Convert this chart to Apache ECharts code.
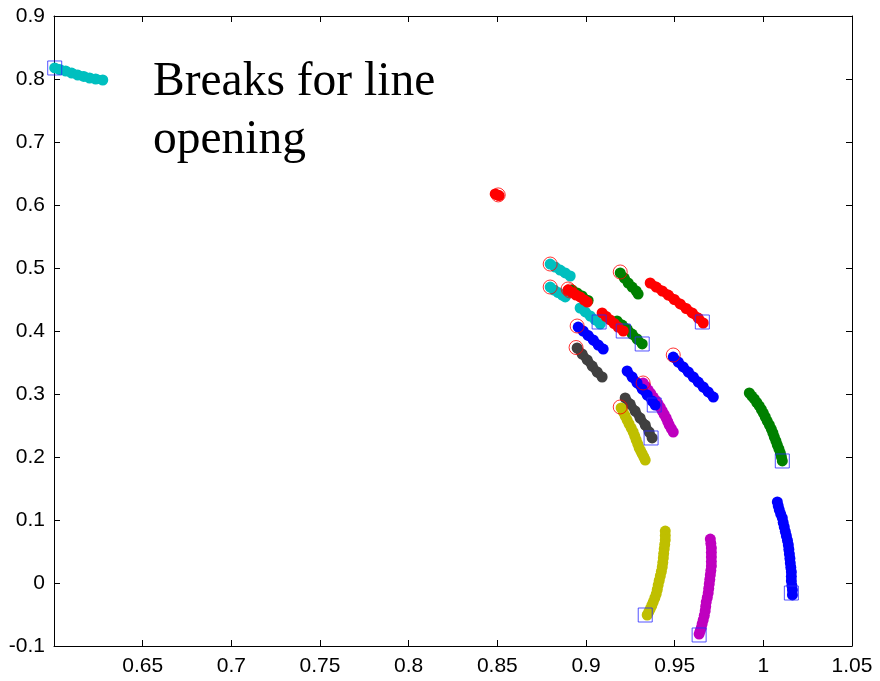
<!DOCTYPE html>
<html>
<head>
<meta charset="utf-8">
<script src="https://cdn.jsdelivr.net/npm/echarts@6/dist/echarts.min.js"></script>
<style>
  html, body { margin: 0; padding: 0; background: #ffffff; }
  #chart { width: 880px; height: 681px; }
</style>
</head>
<body>
<div id="chart"></div>
<script>
// Axis ranges and tick spacing
const xRange = [0.6, 1.05];
const xStep = 0.05;
const yRange = [-0.1, 0.9];
const yStep = 0.1;

// Trajectories of the operating points, [x, y] pairs
const cyanTop = [[0.6004,0.8175],[0.6032,0.8151],[0.6066,0.8127],[0.6100,0.8095],[0.6134,0.8063],[0.6168,0.8040],[0.6201,0.8016],[0.6235,0.8000],[0.6275,0.7984]];
const cyanUpper = [[0.8798,0.5063],[0.8826,0.5016],[0.8854,0.4968],[0.8883,0.4921],[0.8911,0.4873]];
const cyanLowerA = [[0.8798,0.4698],[0.8820,0.4651],[0.8843,0.4611],[0.8866,0.4571],[0.8883,0.4540]];
const cyanLowerB = [[0.8967,0.4365],[0.8996,0.4302],[0.9024,0.4238],[0.9052,0.4175],[0.9080,0.4111]];
const greenA = [[0.8922,0.4651],[0.8950,0.4603],[0.8978,0.4556],[0.9012,0.4484]];
const greenB = [[0.9175,0.4159],[0.9204,0.4095],[0.9232,0.4032],[0.9260,0.3952],[0.9288,0.3873],[0.9317,0.3794]];
const greenC = [[0.9193,0.4921],[0.9216,0.4841],[0.9238,0.4762],[0.9260,0.4698],[0.9283,0.4635],[0.9294,0.4587]];
const greenRight = [[0.9921,0.3016],[0.9935,0.2968],[0.9949,0.2921],[0.9963,0.2865],[0.9977,0.2810],[0.9989,0.2754],[1.0000,0.2698],[1.0011,0.2635],[1.0022,0.2571],[1.0034,0.2508],[1.0045,0.2444],[1.0054,0.2381],[1.0062,0.2317],[1.0071,0.2254],[1.0079,0.2190],[1.0088,0.2127],[1.0096,0.2063],[1.0102,0.2000],[1.0107,0.1937]];
const redDot = [[0.8488,0.6175],[0.8499,0.6159],[0.8510,0.6150]];
const redA = [[0.8899,0.4651],[0.8922,0.4611],[0.8944,0.4571],[0.8967,0.4540],[0.8990,0.4492],[0.9007,0.4460]];
const redB = [[0.9091,0.4286],[0.9114,0.4230],[0.9136,0.4175],[0.9159,0.4119],[0.9181,0.4063],[0.9210,0.4000]];
const redC = [[0.9362,0.4762],[0.9396,0.4698],[0.9430,0.4635],[0.9464,0.4571],[0.9498,0.4500],[0.9531,0.4429],[0.9565,0.4357],[0.9599,0.4286],[0.9633,0.4206],[0.9661,0.4127]];
const magentaA = [[0.9322,0.3175],[0.9337,0.3119],[0.9351,0.3063],[0.9365,0.3008],[0.9379,0.2952],[0.9393,0.2897],[0.9407,0.2841],[0.9419,0.2786],[0.9430,0.2730],[0.9441,0.2675],[0.9452,0.2619],[0.9461,0.2563],[0.9469,0.2508],[0.9481,0.2452],[0.9492,0.2397]];
const magentaBottom = [[0.9701,0.0698],[0.9704,0.0627],[0.9707,0.0556],[0.9707,0.0484],[0.9707,0.0413],[0.9707,0.0341],[0.9707,0.0270],[0.9704,0.0198],[0.9701,0.0127],[0.9698,0.0056],[0.9695,-0.0016],[0.9692,-0.0087],[0.9689,-0.0159],[0.9684,-0.0230],[0.9678,-0.0302],[0.9675,-0.0373],[0.9672,-0.0444],[0.9667,-0.0516],[0.9661,-0.0587],[0.9655,-0.0651],[0.9650,-0.0714],[0.9644,-0.0762],[0.9638,-0.0810]];
const blueA = [[0.8956,0.4063],[0.8984,0.4000],[0.9012,0.3929],[0.9041,0.3857],[0.9069,0.3778],[0.9097,0.3714]];
const blueB = [[0.9492,0.3587],[0.9520,0.3508],[0.9548,0.3429],[0.9577,0.3349],[0.9605,0.3270],[0.9633,0.3190],[0.9661,0.3111],[0.9689,0.3032],[0.9718,0.2952]];
const blueC = [[0.9232,0.3365],[0.9260,0.3270],[0.9288,0.3175],[0.9317,0.3079],[0.9345,0.2984],[0.9373,0.2889],[0.9390,0.2825]];
const blueRight = [[1.0079,0.1286],[1.0084,0.1222],[1.0090,0.1159],[1.0098,0.1095],[1.0107,0.1032],[1.0112,0.0960],[1.0118,0.0889],[1.0124,0.0817],[1.0130,0.0746],[1.0136,0.0675],[1.0141,0.0603],[1.0144,0.0532],[1.0147,0.0460],[1.0150,0.0389],[1.0152,0.0317],[1.0155,0.0246],[1.0158,0.0175],[1.0158,0.0103],[1.0158,0.0032],[1.0161,-0.0040],[1.0164,-0.0111],[1.0164,-0.0190]];
const grayA = [[0.8950,0.3730],[0.8978,0.3635],[0.9007,0.3540],[0.9035,0.3444],[0.9063,0.3349],[0.9091,0.3270]];
const grayB = [[0.9221,0.2937],[0.9249,0.2841],[0.9277,0.2730],[0.9305,0.2619],[0.9334,0.2508],[0.9356,0.2397],[0.9373,0.2302]];
const yellowA = [[0.9198,0.2778],[0.9210,0.2714],[0.9221,0.2651],[0.9232,0.2587],[0.9243,0.2524],[0.9255,0.2460],[0.9266,0.2397],[0.9275,0.2333],[0.9283,0.2270],[0.9292,0.2206],[0.9300,0.2143],[0.9309,0.2095],[0.9317,0.2048],[0.9326,0.2000],[0.9334,0.1952]];
const yellowBottom = [[0.9447,0.0825],[0.9447,0.0754],[0.9447,0.0683],[0.9444,0.0611],[0.9441,0.0540],[0.9438,0.0468],[0.9436,0.0397],[0.9433,0.0325],[0.9430,0.0254],[0.9425,0.0183],[0.9419,0.0111],[0.9413,0.0040],[0.9407,-0.0032],[0.9402,-0.0103],[0.9396,-0.0175],[0.9388,-0.0238],[0.9379,-0.0302],[0.9371,-0.0357],[0.9362,-0.0413],[0.9354,-0.0460],[0.9345,-0.0508]];

// Start points (open circles) and end points (open squares)
const startPoints = [[0.8505,0.6160],[0.8798,0.5063],[0.8798,0.4698],[0.8899,0.4667],[0.8910,0.4635],[0.9193,0.4937],[0.8950,0.4079],[0.8944,0.3738],[0.9492,0.3619],[0.9322,0.3175],[0.9193,0.2794]];
const endPoints = [[0.6004,0.8175],[0.9074,0.4143],[0.9210,0.4000],[0.9317,0.3794],[0.9656,0.4143],[0.9385,0.2825],[0.9367,0.2302],[1.0107,0.1937],[1.0158,-0.0159],[0.9334,-0.0508],[0.9638,-0.0825]];

const annotationLines = ['Breaks for line', 'opening'];

// Drawing order and colours of the trajectory groups
const groups = [
  { color: '#00bfbf', sets: [cyanTop, cyanUpper, cyanLowerA, cyanLowerB] },
  { color: '#008000', sets: [greenA, greenB, greenC, greenRight] },
  { color: '#ff0000', sets: [redDot, redA, redB, redC] },
  { color: '#bf00bf', sets: [magentaA, magentaBottom] },
  { color: '#0000ff', sets: [blueA, blueB, blueC, blueRight] },
  { color: '#404040', sets: [grayA, grayB] },
  { color: '#bfbf00', sets: [yellowA, yellowBottom] }
];

const fmt = v => String(Math.round(v * 100) / 100);

// Each trajectory: densely packed dots, joined by a stroke of the same width
const series = [];
groups.forEach(g => {
  g.sets.forEach(d => {
    series.push({
      type: 'line',
      data: d,
      symbol: 'circle',
      symbolSize: 11,
      showSymbol: true,
      showAllSymbol: true,
      lineStyle: { color: g.color, width: 9, cap: 'round', join: 'round' },
      itemStyle: { color: g.color, borderWidth: 0 },
      silent: true,
      animation: false
    });
  });
});
series.push({
  type: 'scatter',
  data: startPoints,
  symbol: 'circle',
  symbolSize: 14,
  itemStyle: { color: 'rgba(0,0,0,0)', borderColor: '#ff0000', borderWidth: 1 },
  z: 5,
  silent: true,
  animation: false
});
series.push({
  type: 'scatter',
  data: endPoints,
  symbol: 'rect',
  symbolSize: 14,
  itemStyle: { color: 'rgba(0,0,0,0)', borderColor: '#2828ff', borderWidth: 1 },
  z: 5,
  silent: true,
  animation: false
});

const labelFont = { fontFamily: 'Liberation Sans, Arial, sans-serif', fontSize: 21, color: '#000000' };

const chart = echarts.init(document.getElementById('chart'), null, { renderer: 'canvas' });
chart.setOption({
  backgroundColor: '#ffffff',
  animation: false,
  grid: { left: 54, right: 28, top: 16, bottom: 35, containLabel: false },
  xAxis: [
    {
      type: 'value', position: 'bottom', min: xRange[0], max: xRange[1], interval: xStep,
      axisLine: { show: true, onZero: false, lineStyle: { color: '#000', width: 1 } },
      axisTick: { show: true, inside: true, length: 6, lineStyle: { color: '#000' } },
      axisLabel: Object.assign({ margin: 10, showMinLabel: false, formatter: fmt }, labelFont),
      splitLine: { show: false }
    },
    {
      type: 'value', position: 'top', min: xRange[0], max: xRange[1], interval: xStep,
      axisLine: { show: true, onZero: false, lineStyle: { color: '#000', width: 1 } },
      axisTick: { show: true, inside: true, length: 6, lineStyle: { color: '#000' } },
      axisLabel: { show: false },
      splitLine: { show: false }
    }
  ],
  yAxis: [
    {
      type: 'value', position: 'left', min: yRange[0], max: yRange[1], interval: yStep,
      axisLine: { show: true, onZero: false, lineStyle: { color: '#000', width: 1 } },
      axisTick: { show: true, inside: true, length: 6, lineStyle: { color: '#000' } },
      axisLabel: Object.assign({ margin: 9, formatter: fmt }, labelFont),
      splitLine: { show: false }
    },
    {
      type: 'value', position: 'right', min: yRange[0], max: yRange[1], interval: yStep,
      axisLine: { show: true, onZero: false, lineStyle: { color: '#000', width: 1 } },
      axisTick: { show: true, inside: true, length: 6, lineStyle: { color: '#000' } },
      axisLabel: { show: false },
      splitLine: { show: false }
    }
  ],
  graphic: annotationLines.map((t, i) => ({
    type: 'text',
    left: 153,
    top: 59 + i * 57.5,
    silent: true,
    style: {
      text: t,
      font: '47.5px "Liberation Serif", "Times New Roman", serif',
      fill: '#000000'
    }
  })),
  series: series
});
</script>
</body>
</html>
